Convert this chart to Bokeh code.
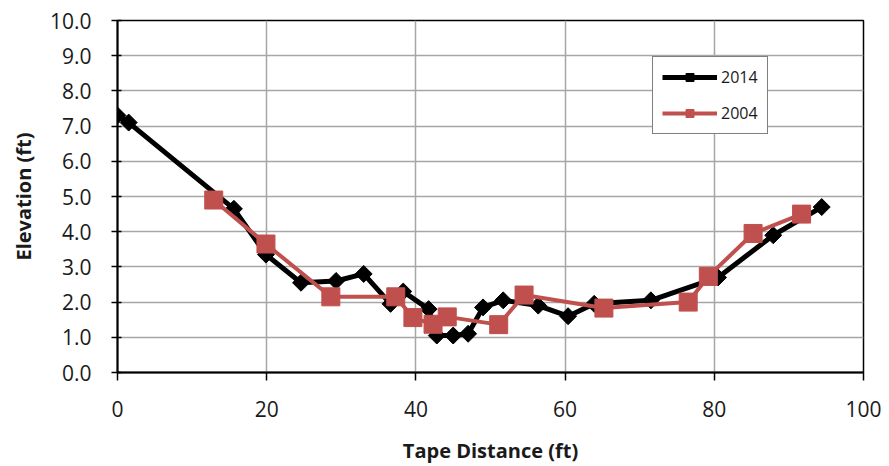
from bokeh.plotting import figure
from bokeh.models import Range1d, FixedTicker, Legend, LegendItem, NumeralTickFormatter
from bokeh.embed import file_html
from bokeh.resources import INLINE
import math

# 2014 survey
x2014 = [0.0, 1.5, 15.6, 19.9, 24.6, 29.3, 33.0, 36.6, 38.3, 41.7, 42.8, 45.0, 47.0,
         49.0, 51.7, 56.4, 60.4, 63.9, 71.5, 80.5, 87.9, 94.4]
y2014 = [7.3, 7.1, 4.65, 3.35, 2.55, 2.6, 2.8, 1.95, 2.3, 1.8, 1.05, 1.05, 1.1,
         1.85, 2.05, 1.9, 1.6, 1.95, 2.05, 2.7, 3.9, 4.7]

# 2004 survey
x2004 = [12.9, 19.9, 28.6, 37.3, 39.6, 42.3, 44.2, 51.1, 54.5, 65.2, 76.5, 79.2, 85.2, 91.7]
y2004 = [4.9, 3.65, 2.15, 2.15, 1.56, 1.37, 1.58, 1.36, 2.2, 1.83, 2.0, 2.73, 3.95, 4.5]

x_ticks = [0, 20, 40, 60, 80, 100]
y_ticks = [0, 1, 2, 3, 4, 5, 6, 7, 8, 9, 10]

FONT = "Open Sans"
RED = "#C0504D"

p = figure(width=881, height=466, output_backend="svg", toolbar_location=None,
           x_range=Range1d(0, 100), y_range=Range1d(0, 10),
           min_border_left=117, min_border_right=18, min_border_top=20,
           min_border_bottom=93)
p.background_fill_color = "white"
p.border_fill_color = "white"
p.outline_line_color = "black"
p.outline_line_width = 1.5

p.xaxis.ticker = FixedTicker(ticks=x_ticks)
p.yaxis.ticker = FixedTicker(ticks=y_ticks)
p.xgrid.ticker = FixedTicker(ticks=x_ticks)
p.ygrid.ticker = FixedTicker(ticks=y_ticks)
for g in (p.xgrid, p.ygrid):
    g.grid_line_color = "#a6a6a6"
    g.grid_line_width = 1.5
p.yaxis.formatter = NumeralTickFormatter(format="0.0")

for ax in (p.xaxis, p.yaxis):
    ax.axis_line_color = "black"
    ax.axis_line_width = 2
    ax.major_tick_line_color = "black"
    ax.major_tick_line_width = 1.5
    ax.minor_tick_line_color = None
    ax.major_label_text_font = FONT
    ax.major_label_text_font_size = "21px"
    ax.major_label_text_color = "#1a1a1a"
    ax.axis_label_text_font = FONT
    ax.axis_label_text_font_size = "20px"
    ax.axis_label_text_font_style = "bold"
    ax.axis_label_text_color = "#1a1a1a"

p.xaxis.major_tick_in = 0
p.xaxis.major_tick_out = 8
p.xaxis.major_label_standoff = 20
p.xaxis.axis_label = "Tape Distance (ft)"
p.xaxis.axis_label_standoff = 17

p.yaxis.major_tick_in = 4
p.yaxis.major_tick_out = 6
p.yaxis.major_label_standoff = 20
p.yaxis.axis_label = "Elevation (ft)"
p.yaxis.axis_label_standoff = 10

l1 = p.line(x2014, y2014, line_color="black", line_width=5)
s1 = p.scatter(x2014, y2014, marker="square", size=12, angle=math.pi / 4,
               fill_color="black", line_color="black")
l2 = p.line(x2004, y2004, line_color=RED, line_width=4)
s2 = p.scatter(x2004, y2004, marker="square", size=18,
               fill_color=RED, line_color=RED)

legend = Legend(items=[LegendItem(label="2014", renderers=[l1, s1]),
                       LegendItem(label="2004", renderers=[l2, s2])],
                location=(535, 238))
legend.border_line_color = "black"
legend.border_line_width = 1.5
legend.background_fill_color = "white"
legend.background_fill_alpha = 1
legend.label_text_font = FONT
legend.label_text_font_size = "16px"
legend.label_text_color = "#1a1a1a"
legend.glyph_width = 55
legend.glyph_height = 20
legend.label_standoff = 4
legend.spacing = 14
legend.padding = 9
legend.margin = 0
p.add_layout(legend, "center")

open("out.html", "w").write(file_html(p, INLINE))
